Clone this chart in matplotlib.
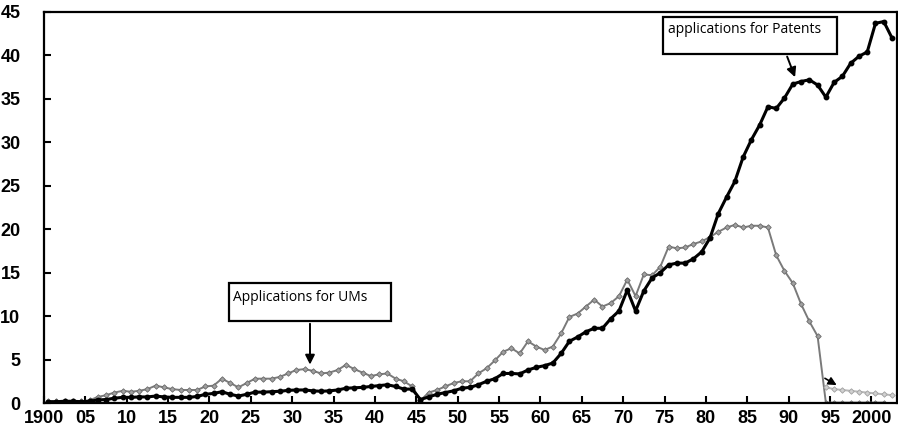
import matplotlib.pyplot as plt
import numpy as np
from matplotlib.patches import Rectangle

years = np.arange(1900, 2003)

# applications for patents (black)
patents = [0.15, 0.15, 0.2, 0.2, 0.15, 0.2, 0.35, 0.4, 0.55, 0.65,
           0.65, 0.7, 0.7, 0.8, 0.7, 0.65, 0.65, 0.65, 0.75, 1.0,
           1.1, 1.3, 1.0, 0.8, 1.0, 1.25, 1.25, 1.3, 1.35, 1.45,
           1.5, 1.5, 1.4, 1.35, 1.4, 1.5, 1.7, 1.75, 1.8, 1.9,
           2.0, 2.1, 1.9, 1.6, 1.6, 0.4, 0.7, 1.0, 1.2, 1.4,
           1.7, 1.8, 2.1, 2.5, 2.8, 3.4, 3.4, 3.35, 3.8, 4.1,
           4.3, 4.6, 5.7, 7.1, 7.6, 8.2, 8.6, 8.6, 9.7, 10.6,
           13.0, 10.6, 12.9, 14.4, 15.0, 15.9, 16.1, 16.1, 16.6, 17.4,
           19.0, 21.8, 23.7, 25.5, 28.3, 30.3, 32.0, 34.1, 33.9, 35.1,
           36.7, 37.0, 37.2, 36.6, 35.2, 36.9, 37.6, 39.1, 39.9, 40.4,
           43.7, 43.9, 42.0]

# applications for utility models (gray), old system
um_years = np.arange(1900, 2002)
ums = [0.2, 0.2, 0.2, 0.2, 0.2, 0.3, 0.7, 0.9, 1.2, 1.4,
       1.3, 1.4, 1.6, 2.0, 1.8, 1.6, 1.5, 1.5, 1.5, 1.9,
       2.0, 2.8, 2.3, 1.8, 2.3, 2.8, 2.8, 2.8, 3.0, 3.4,
       3.8, 3.9, 3.7, 3.4, 3.5, 3.8, 4.4, 3.9, 3.5, 3.1,
       3.3, 3.4, 2.8, 2.5, 1.9, 0.3, 1.2, 1.5, 1.9, 2.3,
       2.5, 2.5, 3.4, 4.0, 4.9, 5.9, 6.3, 5.7, 7.1, 6.5,
       6.1, 6.5, 8.0, 9.9, 10.3, 11.1, 11.9, 11.1, 11.5, 12.3,
       14.2, 12.3, 14.8, 14.7, 15.7, 18.0, 17.8, 17.9, 18.3, 18.6,
       19.1, 19.7, 20.2, 20.5, 20.2, 20.4, 20.4, 20.2, 17.0, 15.2,
       13.8, 11.4, 9.4, 7.7, 0.05, 0.05, 0.05, 0.05, 0.05, 0.05,
       0.05, 0.05]

# new utility model system from 1994
new_um_years = np.arange(1994, 2003)
new_ums = [1.8, 1.6, 1.5, 1.4, 1.3, 1.2, 1.1, 1.0, 0.9]

xtick_years = np.arange(1900, 2001, 5)
xtick_labels = ['1900', '05', '10', '15', '20', '25', '30', '35', '40', '45',
                '50', '55', '60', '65', '70', '75', '80', '85', '90', '95', '2000']

plt.rcParams['font.family'] = ['Liberation Sans', 'DejaVu Sans']

fig = plt.figure(figsize=(8.98, 4.33), dpi=100)
ax = fig.add_axes([44/898, 1-403/433, 853/898, 391/433])

# points sit between the year ticks
ax.plot(um_years + 0.5, ums, color='#7a7a7a', lw=1.4, marker='D', ms=2.8,
        mfc='#a0a0a0', mec='#6a6a6a', mew=0.6, zorder=2)
ax.plot(new_um_years + 0.5, new_ums, color='#b8b8b8', lw=1.4, marker='D', ms=2.8,
        mfc='#d0d0d0', mec='#a0a0a0', mew=0.6, zorder=2)
ax.plot(years + 0.5, patents, color='black', lw=2.2, marker='o', ms=3.2, zorder=3)

ax.set_xlim(1900, 2003.1)
ax.set_ylim(0, 45)
ax.set_xticks(xtick_years)
ax.set_xticklabels(xtick_labels)
ax.set_yticks(np.arange(0, 46, 5))
ax.tick_params(direction='in', length=5, width=1.5, labelsize=13)
ax.tick_params(axis='x', pad=5)
ax.tick_params(axis='y', pad=17)
for lab in ax.get_xticklabels() + ax.get_yticklabels():
    lab.set_fontweight('bold')
for s in ax.spines.values():
    s.set_linewidth(1.6)

# annotation boxes
ax.add_patch(Rectangle((1922.36, 9.44), 19.58, 4.37, fill=False, ec='black',
                       lw=1.6, zorder=5, clip_on=False))
ax.text(1922.85, 12.1, 'Applications for UMs', fontsize=10, family='Open Sans',
        va='center', ha='left', zorder=6)
ax.annotate('', xy=(1932.15, 4.1), xytext=(1932.15, 9.44),
            arrowprops=dict(arrowstyle='-|>', color='black', lw=1.4, mutation_scale=14))

ax.add_patch(Rectangle((1974.81, 40.17), 21.03, 4.25, fill=False, ec='black',
                       lw=1.6, zorder=5, clip_on=False))
ax.text(1975.4, 43.0, 'applications for Patents', fontsize=10, family='Open Sans',
        va='center', ha='left', zorder=6)
ax.annotate('', xy=(1990.9, 37.2), xytext=(1989.7, 40.17),
            arrowprops=dict(arrowstyle='-|>', color='black', lw=1.4, mutation_scale=14))

ax.annotate('', xy=(1996.1, 1.9), xytext=(1994.1, 3.0),
            arrowprops=dict(arrowstyle='-|>', color='black', lw=1.2, mutation_scale=12))

fig.savefig('out.png', dpi=100)
